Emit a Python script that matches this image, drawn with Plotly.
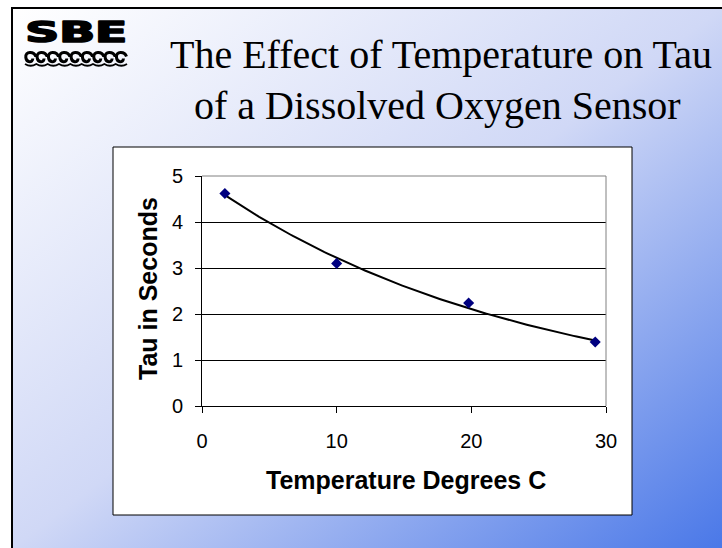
import base64
import numpy as np
import plotly.graph_objects as go

# ---- data ----
temperature_c = [1.7, 10.0, 19.8, 29.2]
tau_seconds = [4.62, 3.10, 2.24, 1.39]
x_ticks = [0, 10, 20, 30]
y_ticks = [0, 1, 2, 3, 4, 5]
title_line1 = "The Effect of Temperature on Tau"
title_line2 = "of a Dissolved Oxygen Sensor"
x_title = "Temperature Degrees C"
y_title = "Tau in Seconds"

# exponential trendline (least squares on ln y, as a spreadsheet trendline)
b, ln_a = np.polyfit(temperature_c, np.log(tau_seconds), 1)
trend_x = np.linspace(min(temperature_c), max(temperature_c), 120)
trend_y = np.exp(ln_a) * np.exp(b * trend_x)

# ---- layout geometry (pixels) ----
W, H = 722, 548
PL, PR, PT, PB = 202, 606, 176, 406  # plot area


def px(x):
    return (x - PL) / (PR - PL)


def py(y):
    return (PB - y) / (PB - PT)


fig = go.Figure()
fig.add_trace(go.Scatter(x=trend_x, y=trend_y, mode="lines",
                         line=dict(color="black", width=2),
                         hoverinfo="skip", showlegend=False))
fig.add_trace(go.Scatter(x=temperature_c, y=tau_seconds, mode="markers",
                         marker=dict(symbol="diamond", size=8.5, color="#000080"),
                         showlegend=False))

# gradient background as an SVG image
svg = ('<svg xmlns="http://www.w3.org/2000/svg" width="710" height="540" '
       'preserveAspectRatio="none"><defs><linearGradient id="g" x1="0" y1="0" x2="1" y2="1">'
       '<stop offset="0" stop-color="#ffffff"/><stop offset="0.5" stop-color="#d0d8f6"/>'
       '<stop offset="1" stop-color="#4a78e8"/></linearGradient></defs>'
       '<rect width="710" height="540" fill="url(#g)"/></svg>')
src = "data:image/svg+xml;base64," + base64.b64encode(svg.encode()).decode()
fig.add_layout_image(dict(source=src, xref="paper", yref="paper",
                          x=px(12), y=py(8), sizex=(W - 12) / (PR - PL),
                          sizey=(H - 8) / (PB - PT), xanchor="left", yanchor="top",
                          sizing="stretch", layer="below"))

shapes = []
# slide border (left/top)
shapes.append(dict(type="rect", xref="paper", yref="paper", x0=px(12), y0=py(8),
                   x1=px(760), y1=py(580), line=dict(color="black", width=2),
                   fillcolor="rgba(0,0,0,0)", layer="below"))
# chart box
shapes.append(dict(type="rect", xref="paper", yref="paper", x0=px(113), y0=py(147),
                   x1=px(632), y1=py(515), line=dict(color="black", width=1),
                   fillcolor="white", layer="below"))
# gray plot-area border top/right
shapes.append(dict(type="line", xref="paper", yref="paper", x0=0, y0=1, x1=1, y1=1,
                   line=dict(color="#808080", width=1), layer="above"))
shapes.append(dict(type="line", xref="paper", yref="paper", x0=1, y0=0, x1=1, y1=1,
                   line=dict(color="#808080", width=1), layer="above"))

# wave motif of the logo
w = (127 - 25) / 9
curl = ""
for i in range(9):
    x0 = 25 + i * w
    pts = [(x0 + w - 0.5, 56.5), (x0 + w - 2.5, 51.0), (x0 + 0.0, 51.0), (x0 + 0.8, 57.5),
           (x0 + 1.5, 63.0), (x0 + 7.5, 63.0), (x0 + 7.8, 58.5)]
    curl += "M%.4f,%.4f C%.4f,%.4f %.4f,%.4f %.4f,%.4f C%.4f,%.4f %.4f,%.4f %.4f,%.4f " % tuple(
        v for p in pts for v in (px(p[0]), py(p[1])))
shapes.append(dict(type="path", xref="paper", yref="paper", path=curl,
                   line=dict(color="black", width=3), layer="above"))
scal = "M%.4f,%.4f " % (px(25), py(64))
for i in range(9):
    x0 = 25 + i * w
    scal += "Q%.4f,%.4f %.4f,%.4f " % (px(x0 + w / 2), py(67.5), px(x0 + w), py(64))
shapes.append(dict(type="path", xref="paper", yref="paper", path=scal,
                   line=dict(color="black", width=1.8), layer="above"))

ann = []
ann.append(dict(text=title_line1, x=px(441), y=py(55), xref="paper", yref="paper",
                showarrow=False, xanchor="center", yanchor="middle",
                font=dict(family="Liberation Serif, Times New Roman, serif", size=40, color="black")))
ann.append(dict(text=title_line2, x=px(437), y=py(105), xref="paper", yref="paper",
                showarrow=False, xanchor="center", yanchor="middle",
                font=dict(family="Liberation Serif, Times New Roman, serif", size=40, color="black")))
ann.append(dict(text="<b>" + x_title + "</b>", x=px(405.5), y=py(479.5), xref="paper", yref="paper",
                showarrow=False, xanchor="center", yanchor="middle",
                font=dict(family="Liberation Sans, Arial, sans-serif", size=25, color="black")))
ann.append(dict(text="<b>" + y_title + "</b>", x=px(147.5), y=py(288.5), xref="paper", yref="paper",
                showarrow=False, xanchor="center", yanchor="middle", textangle=-90,
                font=dict(family="Liberation Sans, Arial, sans-serif", size=25, color="black")))
ann.append(dict(text="<b>SBE</b>", x=px(76), y=py(32.4), xref="paper", yref="paper",
                showarrow=False, xanchor="center", yanchor="middle",
                font=dict(family="DejaVu Sans, sans-serif", size=28, color="black")))

tickfont = dict(family="Liberation Sans, Arial, sans-serif", size=20, color="black")
fig.update_layout(
    width=W, height=H, autosize=False,
    margin=dict(l=PL, r=W - PR, t=PT, b=H - PB, pad=0),
    paper_bgcolor="white", plot_bgcolor="white",
    shapes=shapes, annotations=ann,
    xaxis=dict(range=[0, 30], tickvals=x_ticks, showline=True, linecolor="black", linewidth=1,
               ticks="outside", ticklen=6, tickcolor="black", tickwidth=1,
               showgrid=False, zeroline=False, tickfont=tickfont, ticklabelstandoff=11),
    yaxis=dict(range=[0, 5], tickvals=y_ticks, showline=True, linecolor="black", linewidth=1,
               ticks="outside", ticklen=6, tickcolor="black", tickwidth=1,
               showgrid=True, gridcolor="black", gridwidth=1,
               zeroline=False, tickfont=tickfont, ticklabelstandoff=8),
    hovermode=False,
)

post = """
(function(){
  document.body.style.margin = '0';
  document.body.style.padding = '0';
  function fix(){
    document.querySelectorAll('text.annotation-text').forEach(function(t){
      if (t.textContent === 'SBE') {
        t.removeAttribute('transform');
        var bb = t.getBBox();
        var cx = bb.x + bb.width / 2;
        var s = 102 / bb.width;
        t.setAttribute('transform', 'translate(' + cx + ',0) scale(' + s + ',1) translate(' + (-cx) + ',0)');
        t.style.stroke = 'black';
        t.style.strokeWidth = '1.6px';
        t.style.strokeLinejoin = 'round';
      }
    });
  }
  fix();
  var gd = document.getElementById('{plot_id}');
  if (gd && gd.on) { gd.on('plotly_afterplot', fix); }
})();
"""

fig.write_html("out.html", post_script=post, config={"displayModeBar": False, "staticPlot": True})
